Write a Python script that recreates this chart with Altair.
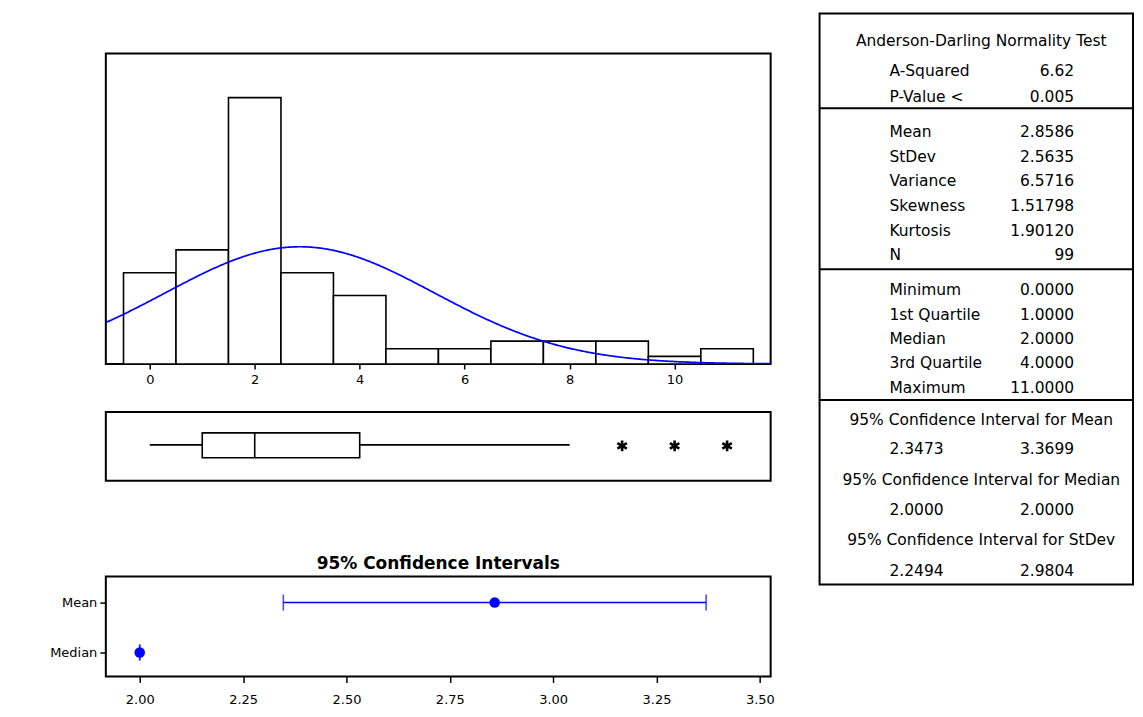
import altair as alt
import pandas as pd

# ---------------- data ----------------
bin_centers = [0, 1, 2, 3, 4, 5, 6, 7, 8, 9, 10, 11]
bin_counts = [12, 15, 35, 12, 9, 2, 2, 3, 3, 3, 1, 2]
mean_val = 2.8586
sd_val = 2.5635
n_obs = 99
box_q1, box_med, box_q3 = 1.0, 2.0, 4.0
whisk_lo, whisk_hi = 0.0, 8.0
outlier_vals = [9, 10, 11]
hist_ticks = [0, 2, 4, 6, 8, 10]

ci_labels = ["Mean", "Median"]
ci_center = [2.8586, 2.0]
ci_low = [2.3473, 2.0]
ci_high = [3.3699, 2.0]
ci_ticks = [2.00, 2.25, 2.50, 2.75, 3.00, 3.25, 3.50]

ad_title = "Anderson-Darling Normality Test"
ad_labels = ["A-Squared", "P-Value <"]
ad_values = ["6.62", "0.005"]
desc_labels = ["Mean", "StDev", "Variance", "Skewness", "Kurtosis", "N"]
desc_values = ["2.8586", "2.5635", "6.5716", "1.51798", "1.90120", "99"]
quart_labels = ["Minimum", "1st Quartile", "Median", "3rd Quartile", "Maximum"]
quart_values = ["0.0000", "1.0000", "2.0000", "4.0000", "11.0000"]
ci_titles = ["95% Confidence Interval for Mean",
             "95% Confidence Interval for Median",
             "95% Confidence Interval for StDev"]
ci_tab_low = ["2.3473", "2.0000", "2.2494"]
ci_tab_high = ["3.3699", "2.0000", "2.9804"]

# ---------------- layout ----------------
FONT = "DejaVu Sans"
W = 666
H_HIST, H_BOX, H_CI = 311, 69, 100
TOP_GAP, GAP1, GAP2 = 40, 48, 96
TAB_W, TAB_H = 314, 572
HGAP = 42
BLUE = "#0000ff"
X_DOM = [-0.837, 11.83]
CI_DOM = [1.918, 3.526]

xs = alt.Scale(domain=X_DOM, nice=False, zero=False)

# ---------------- histogram ----------------
hist_df = pd.DataFrame({"center": bin_centers, "count": bin_counts})
hist_axis = alt.Axis(values=hist_ticks, title=None, grid=False, domain=False,
                     tickSize=5, tickColor="black", tickWidth=1.5,
                     labelFontSize=13, labelColor="black", labelPadding=5,
                     format="d", labelFont=FONT)
bars = alt.Chart(hist_df).transform_calculate(
    lo="datum.center - 0.5", hi="datum.center + 0.5"
).mark_rect(fill="white", stroke="black", strokeWidth=1.6).encode(
    x=alt.X("lo:Q", scale=xs, axis=hist_axis),
    x2="hi:Q",
    y=alt.Y("count:Q", scale=alt.Scale(domain=[0, 40.8], nice=False), axis=None),
    y2=alt.datum(0),
)
curve = alt.Chart(alt.sequence(X_DOM[0], X_DOM[1] + 0.01, 0.02, as_="x")).transform_calculate(
    dens=f"{n_obs} * exp(-0.5 * pow((datum.x - {mean_val}) / {sd_val}, 2)) / ({sd_val} * sqrt(2 * PI))"
).mark_line(color=BLUE, strokeWidth=1.7, clip=True).encode(
    x=alt.X("x:Q", scale=xs, axis=hist_axis),
    y=alt.Y("dens:Q", axis=None),
)
hist = alt.layer(bars, curve).properties(width=W, height=H_HIST)

# ---------------- boxplot ----------------
box_df = pd.DataFrame({"q1": [box_q1], "q3": [box_q3], "med": [box_med]})
whisk_df = pd.DataFrame({"a": [whisk_lo, box_q3], "b": [box_q1, whisk_hi]})
out_df = pd.DataFrame({"v": outlier_vals})
whisk = alt.Chart(whisk_df).mark_rule(color="black", strokeWidth=1.6).encode(
    x=alt.X("a:Q", scale=xs, axis=None), x2="b:Q", y=alt.value(33))
boxr = alt.Chart(box_df).mark_rect(fill="white", stroke="black", strokeWidth=1.6).encode(
    x=alt.X("q1:Q", scale=xs, axis=None), x2="q3:Q", y=alt.value(21), y2=alt.value(46))
medr = alt.Chart(box_df).mark_rule(color="black", strokeWidth=1.6).encode(
    x=alt.X("med:Q", scale=xs, axis=None), y=alt.value(21), y2=alt.value(46))
ast = "M0,-1L0,1M-0.87,-0.5L0.87,0.5M-0.87,0.5L0.87,-0.5"
outs = alt.Chart(out_df).mark_point(shape=ast, size=120, stroke="black", strokeWidth=2.6,
                                     filled=False, opacity=1).encode(
    x=alt.X("v:Q", scale=xs, axis=None), y=alt.value(34))
boxplot = alt.layer(whisk, boxr, medr, outs).properties(width=W, height=H_BOX)

# ---------------- CI panel ----------------
ci_df = pd.DataFrame({"label": ci_labels, "center": ci_center, "low": ci_low, "high": ci_high})
cxs = alt.Scale(domain=CI_DOM, nice=False, zero=False)
cys = alt.Scale(type="point", domain=ci_labels, range=[26, 76], padding=0)
ci_xaxis = alt.Axis(values=ci_ticks, format=".2f", title=None, grid=False, domain=False,
                    tickSize=6, tickColor="black", tickWidth=1.5, labelFontSize=13,
                    labelColor="black", labelPadding=11, labelFont=FONT)
ci_yaxis = alt.Axis(title=None, grid=False, domain=False, tickSize=6, tickColor="black",
                    tickWidth=1.5, labelFontSize=13, labelColor="black", labelPadding=3,
                    labelFont=FONT)
ci_base = alt.Chart(ci_df)
ci_rule = ci_base.mark_rule(color=BLUE, strokeWidth=1.6).encode(
    x=alt.X("low:Q", scale=cxs, axis=ci_xaxis), x2="high:Q",
    y=alt.Y("label:N", scale=cys, axis=ci_yaxis, sort=ci_labels))
cap_lo = ci_base.mark_tick(color=BLUE, thickness=1.6, size=16, orient="vertical").encode(
    x=alt.X("low:Q", scale=cxs, axis=ci_xaxis),
    y=alt.Y("label:N", scale=cys, axis=ci_yaxis, sort=ci_labels))
cap_hi = ci_base.mark_tick(color=BLUE, thickness=1.6, size=16, orient="vertical").encode(
    x=alt.X("high:Q", scale=cxs, axis=ci_xaxis),
    y=alt.Y("label:N", scale=cys, axis=ci_yaxis, sort=ci_labels))
ci_pt = ci_base.mark_circle(color=BLUE, size=110, opacity=1).encode(
    x=alt.X("center:Q", scale=cxs, axis=ci_xaxis),
    y=alt.Y("label:N", scale=cys, axis=ci_yaxis, sort=ci_labels))
ci_chart = alt.layer(ci_rule, cap_lo, cap_hi, ci_pt).properties(
    width=W, height=H_CI,
    title=alt.TitleParams("95% Confidence Intervals", fontSize=17, fontWeight="bold",
                          color="black", font=FONT, offset=4, anchor="middle"))

# ---------------- table ----------------
rows = []
rows.append({"text": ad_title, "y": 27, "kind": "center"})
for i, (l, v) in enumerate(zip(ad_labels, ad_values)):
    y = 58 + 26 * i
    rows += [{"text": l, "y": y, "kind": "left"}, {"text": v, "y": y, "kind": "right"}]
for i, (l, v) in enumerate(zip(desc_labels, desc_values)):
    y = 118.7 + 24.7 * i
    rows += [{"text": l, "y": y, "kind": "left"}, {"text": v, "y": y, "kind": "right"}]
for i, (l, v) in enumerate(zip(quart_labels, quart_values)):
    y = 277 + 24.5 * i
    rows += [{"text": l, "y": y, "kind": "left"}, {"text": v, "y": y, "kind": "right"}]
for i, (t, lo, hi) in enumerate(zip(ci_titles, ci_tab_low, ci_tab_high)):
    yt = 407 + 60 * i
    yv = 436.5 + 61 * i
    rows += [{"text": t, "y": yt, "kind": "center"},
             {"text": lo, "y": yv, "kind": "left"},
             {"text": hi, "y": yv, "kind": "right"}]
tab_df = pd.DataFrame(rows)
sep_df = pd.DataFrame({"y": [94.7, 256, 387]})
tys = alt.Scale(domain=[0, TAB_H], range=[0, TAB_H], nice=False, zero=False)

def txt(kind, align, xpos):
    return alt.Chart(tab_df).transform_filter(f"datum.kind == '{kind}'").mark_text(
        align=align, baseline="middle", fontSize=15.5, font=FONT, color="black").encode(
        x=alt.value(xpos), y=alt.Y("y:Q", scale=tys, axis=None), text="text:N")

seps = alt.Chart(sep_df).mark_rule(color="black", strokeWidth=2).encode(
    y=alt.Y("y:Q", scale=tys, axis=None), x=alt.value(0), x2=alt.value(TAB_W))
table = alt.layer(seps, txt("center", "center", 162), txt("left", "left", 70),
                  txt("right", "right", 255)).properties(width=TAB_W, height=TAB_H)

# ---------------- spacers & composition ----------------
def spacer(h):
    return alt.Chart(pd.DataFrame({"a": [0]})).mark_point(opacity=0).encode(
        x=alt.X("a:Q", axis=None), y=alt.Y("a:Q", axis=None)
    ).properties(width=W, height=h, view=alt.ViewBackground(stroke="transparent"))

left = alt.vconcat(spacer(TOP_GAP), hist, spacer(GAP1), boxplot, spacer(GAP2), ci_chart,
                   spacing=0, bounds="flush")
chart = alt.hconcat(left, table, spacing=HGAP, bounds="full").properties(
    padding={"left": 40, "top": 4, "right": 0, "bottom": 0},
    autosize=alt.AutoSizeParams(type="pad"),
).resolve_scale(x="independent", y="independent").configure(
    font=FONT).configure_view(stroke="black", strokeWidth=2)

chart.save("out.html", embed_options={"renderer": "svg", "actions": False})
